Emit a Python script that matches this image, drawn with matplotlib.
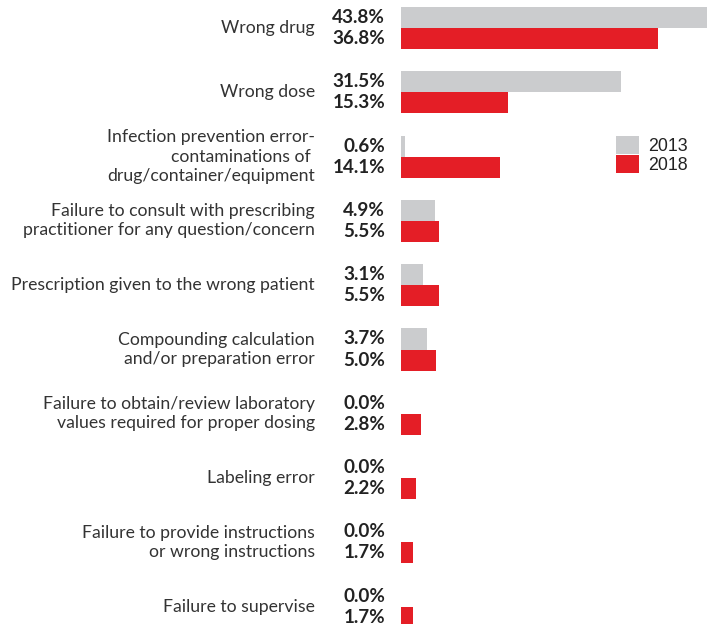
import matplotlib
matplotlib.use("Agg")
import matplotlib.pyplot as plt
from matplotlib.patches import Patch
import numpy as np

categories = [
    "Wrong drug",
    "Wrong dose",
    "Infection prevention error-\ncontaminations of \ndrug/container/equipment",
    "Failure to consult with prescribing\npractitioner for any question/concern",
    "Prescription given to the wrong patient",
    "Compounding calculation\nand/or preparation error",
    "Failure to obtain/review laboratory\nvalues required for proper dosing",
    "Labeling error",
    "Failure to provide instructions\nor wrong instructions",
    "Failure to supervise",
]
values_2013 = [43.8, 31.5, 0.6, 4.9, 3.1, 3.7, 0.0, 0.0, 0.0, 0.0]
values_2018 = [36.8, 15.3, 14.1, 5.5, 5.5, 5.0, 2.8, 2.2, 1.7, 1.7]
series_labels = ["2013", "2018"]

GRAY = "#CBCCCE"
RED = "#E41E26"

W, H = 711, 624
fig = plt.figure(figsize=(W / 100, H / 100), dpi=100)
ax_left = 401 / W
ax = fig.add_axes([ax_left, 0, 1 - ax_left, 1])

y = np.arange(len(categories))
bh = 0.327
ax.barh(y - bh / 2, values_2013, height=bh, color=GRAY, label=series_labels[0])
ax.barh(y + bh / 2, values_2018, height=bh, color=RED, label=series_labels[1])

ax.set_xlim(0, 310 / 6.99)
ax.set_ylim(9.269, -0.4355)
ax.axis("off")

label_font = "Lato"
for i, cat in enumerate(categories):
    ax.annotate(cat, xy=(0, y[i]), xycoords=("axes fraction", "data"),
                xytext=(-86, 0), textcoords="offset pixels",
                ha="right", va="center", fontsize=12.7, family=label_font,
                color="#333333", linespacing=1.24)
    ax.annotate(f"{values_2013[i]:.1f}%", xy=(0, y[i] - bh / 2),
                xycoords=("axes fraction", "data"),
                xytext=(-16, 0), textcoords="offset pixels",
                ha="right", va="center", fontsize=13.6, family=label_font,
                fontweight="bold", color="#222222")
    ax.annotate(f"{values_2018[i]:.1f}%", xy=(0, y[i] + bh / 2),
                xycoords=("axes fraction", "data"),
                xytext=(-16, 0), textcoords="offset pixels",
                ha="right", va="center", fontsize=13.6, family=label_font,
                fontweight="bold", color="#222222")

handles = [Patch(facecolor=GRAY, edgecolor="none"), Patch(facecolor=RED, edgecolor="none")]
leg = ax.legend(handles, series_labels, loc="upper left",
                bbox_to_anchor=((616 - 401) / 310, 1 - 136 / H),
                frameon=False, borderpad=0, borderaxespad=0,
                handlelength=1.32, handleheight=1.2, labelspacing=0,
                handletextpad=0.5,
                prop={"family": "Liberation Sans", "size": 12.8})
for t in leg.get_texts():
    t.set_color("#222222")

fig.savefig("out.png", dpi=100)
